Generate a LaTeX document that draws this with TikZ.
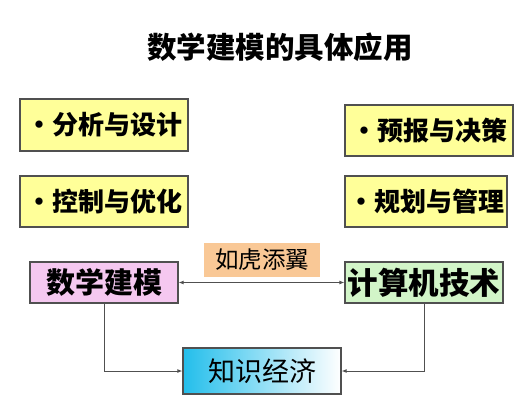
\documentclass[tikz,border=0pt]{standalone}
\usepackage{fontspec}
\newfontfamily\cjk{Noto Sans CJK SC}
\usetikzlibrary{arrows.meta}
\definecolor{boxyellow}{RGB}{255,255,153}
\definecolor{boxpink}{RGB}{245,200,240}
\definecolor{boxgreen}{RGB}{210,245,200}
\definecolor{boxorange}{RGB}{249,200,150}
\definecolor{boxcyan}{RGB}{35,190,235}
\definecolor{linegray}{RGB}{80,80,80}
\tikzset{
  ybox/.style={draw=linegray, line width=1.2pt, fill=boxyellow, minimum height=52pt, inner sep=0pt, font=\cjk\bfseries\fontsize{26}{26}\selectfont},
  mbox/.style={draw=linegray, line width=1.2pt, minimum height=41pt, inner sep=0pt, font=\cjk\bfseries\fontsize{29}{29}\selectfont},
  conn/.style={draw=linegray, line width=1pt, -{Latex[length=5pt,width=4pt]}},
}
\begin{document}
\begin{tikzpicture}[x=1pt,y=-1pt]
\useasboundingbox (0,0) rectangle (518,406);
\node[font=\cjk\bfseries\fontsize{29.5}{29.5}\selectfont] (title) at (280,47) {数学建模的具体应用};
\node[ybox, minimum width=168pt] (a1) at (104,125) {·分析与设计};
\node[ybox, minimum width=168pt, minimum height=51pt] (a2) at (104,201.5) {·控制与优化};
\node[ybox, minimum width=168pt, minimum height=51pt] (b1) at (429,130.5) {·预报与决策};
\node[ybox, minimum width=162pt, minimum height=51pt] (b2) at (426,201.5) {·规划与管理};
\node[mbox, fill=boxpink, minimum width=148pt] (sx) at (104,282.5) {数学建模};
\node[mbox, fill=boxgreen, minimum width=158pt, font=\cjk\bfseries\fontsize{30.5}{30.5}\selectfont] (js) at (424,282.5) {计算机技术};
\node[fill=boxorange, minimum width=116pt, minimum height=34pt, inner sep=0pt, font=\cjk\fontsize{23.5}{23.5}\selectfont] (rh) at (262,260) {如虎添翼};
\node[draw=linegray, line width=1.2pt, left color=boxcyan, right color=white, minimum width=158pt, minimum height=46pt, inner sep=0pt, font=\cjk\fontsize{27}{27}\selectfont] (zs) at (262,371) {知识经济};
\draw[conn, {Latex[length=5pt,width=4pt]}-{Latex[length=5pt,width=4pt]}] (sx.east) -- (js.west);
\draw[conn] (sx.south) |- (zs.west);
\draw[conn] (js.south) |- (zs.east);
\end{tikzpicture}
\end{document}
